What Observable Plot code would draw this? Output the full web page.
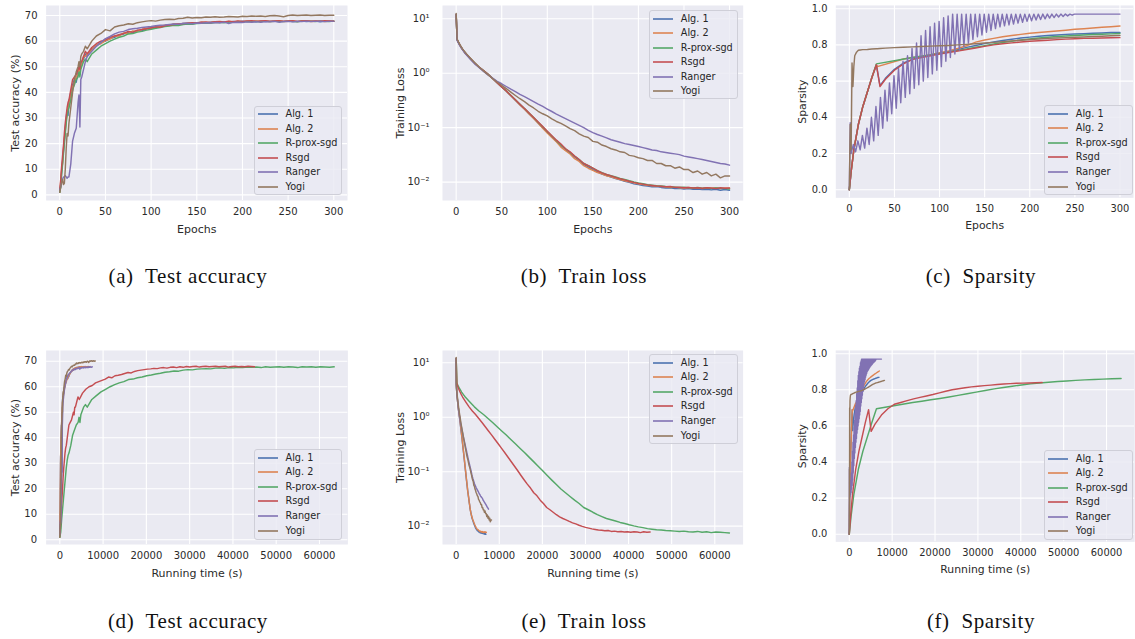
<!DOCTYPE html>
<html>
<head>
<meta charset="utf-8">
<script src="https://cdn.jsdelivr.net/npm/d3@7"></script>
<script src="https://cdn.jsdelivr.net/npm/@observablehq/plot@0.6"></script>
<style>
html, body { margin: 0; padding: 0; background: #fff; overflow: hidden; }
#fig { position: relative; width: 1135px; height: 639px; overflow: hidden; font-family: "DejaVu Sans", sans-serif; }
.panel { position: absolute; }
.panel svg { overflow: visible; }
.legend { position: absolute; box-sizing: border-box; background: rgba(234,234,242,0.8); border: 1px solid #cfcfd8; border-radius: 3px; font-family: "DejaVu Sans", sans-serif; font-size: 9.7px; color: #262626; }
.lrow { position: absolute; left: 0; height: 14px; line-height: 14px; white-space: nowrap; }
.sw { position: absolute; left: 2px; top: 0; width: 22px; height: 14px; }
.lt { position: absolute; left: 30.5px; top: 0; }
.cap { position: absolute; width: 400px; text-align: center; font-family: "Liberation Serif", serif; font-size: 21px; letter-spacing: 0.6px; line-height: 24px; color: #111; white-space: pre; }
</style>
</head>
<body>
<div id="fig"></div>
<script>
// ---------- series names & colours ----------
const names = ["Alg. 1", "Alg. 2", "R-prox-sgd", "Rsgd", "Ranger", "Yogi"];
const colors = ["#4C72B0", "#DD8452", "#55A868", "#C44E52", "#8172B3", "#937860"];
// running time (s) at the end of epoch 300 (d)-(f)
const runTimeEnd = [6900, 7000, 63400, 45000, 7500, 8200];

// ---------- test accuracy (%) per epoch ----------
const accEpochs = [0,1,2,3,4,5,6,7,8,9,10,12,14,16,18,20,21,22,23,24,26,28,30,35,40,45,50,55,60,65,70,75,80,85,90,95,100,105,110,115,120,125,130,135,140,145,150,155,160,165,170,175,180,185,190,195,200,205,210,215,220,225,230,235,240,245,250,255,260,265,270,275,280,285,290,295,300];
const accAlg1 = [1.5,4,9,13,17,21,26,30,33,31,36,40,43,45,44,48,50,47,51,52,53,55,54,57,58,59.5,60,61,61.5,62.5,62.8,63.5,63.2,64.2,64,64.8,65.3,65.2,65.8,66,66.3,66.6,66.4,66.9,67,66.8,67.2,67.3,67.1,67.4,67.5,67.3,67.6,67.4,67.7,67.5,67.8,67.6,67.7,67.5,67.8,67.6,67.7,67.8,67.5,67.7,67.8,67.6,67.7,67.8,67.6,67.7,67.8,67.5,67.7,67.8,67.7];
const accAlg2 = [1,5,10,12,18,22,25,29,32,34,35,39,42,44,46,47,49,48,50,51,54,54,55,56.5,58.5,59,60.2,60.8,62,62,63.2,63,64,63.8,64.6,65,65,65.6,65.7,66.2,66.1,66.7,66.8,66.6,67.1,67.2,67,67.4,67.3,67.2,67.6,67.5,67.4,67.7,67.5,67.8,67.6,67.8,67.6,67.9,67.7,67.8,67.6,67.7,67.9,67.6,67.7,67.9,67.6,67.8,67.9,67.6,67.7,67.9,67.6,67.8,67.9];
const accRprox = [1,3,8,12,16,20,24,28,31,33,34,37,41,43,45,46,48,46,49,50,52,53,52,55,56.5,58,59,60,60.8,61.5,62,62.8,63,63.5,63.8,64.3,64.6,65,65.3,65.7,65.9,66.2,66.1,66.5,66.7,66.6,66.9,67,67.1,67,67.3,67.4,67.2,67.5,67.4,67.6,67.5,67.7,67.6,67.7,67.5,67.8,67.6,67.7,67.8,67.6,67.8,67.7,67.5,67.8,67.7,67.8,67.6,67.8,67.7,67.6,67.8];
const accRsgd = [2,6,11,15,19,24,28,31,34,36,37,41,45,46,47,49,50,49,52,52,54,56,55,57.5,59,60,60.5,61.5,62,62.5,63,63.8,63.5,64.3,64.5,64.8,65.2,65.6,65.4,66,66.3,66.5,66.7,66.9,67,67.2,67.1,67.4,67.5,67.3,67.6,67.7,67.5,67.8,67.6,67.9,67.7,67.9,68,67.7,67.9,68,67.8,67.9,68,67.8,67.9,68,67.7,67.9,68,67.8,67.9,67.8,68,67.9,67.8];
const accRanger = [2,3,5,6,7,7,7.5,7,6.5,7,7,12,21,24,26,36,39,26.5,45,46,49,52,54,56,58,59.5,61,61.8,62.8,63.5,63.8,64.5,64.8,65,65.3,65.5,65.7,66,66.2,66.3,66.5,66.7,66.6,66.9,67,66.8,67.1,67,67.2,67.1,67.3,67.2,67.4,66.9,67.3,67.4,67.3,67.5,67.4,67.6,67.4,67.6,67.5,67.7,67.4,67.6,67.7,67.5,67.7,67.6,67.8,67.6,67.7,67.8,67.6,67.7,67.8];
const accYogi = [1,3,5,6,4,4.5,10,18,24,23,28,34,40,45,48,50,52,50,54,55,56,58,57,60,62,63,64.5,64,65.5,66,66.3,66.8,66.6,67.2,67.5,67.8,68,67.8,68.2,68.4,68.5,68.4,68.8,68.9,69.3,69,69.2,69.1,69.4,69.3,69.5,69.3,69.4,69.6,69.5,69.4,69.7,69.6,69.8,69.7,69.8,69.6,69.9,70,69.8,69.5,70,70.2,70,70.1,70.2,70,70.1,70.2,70,70.1,70.1];

// ---------- training loss per epoch ----------
const lossEpochs = [0,1,2,4,6,8,10,15,20,25,30,35,40,45,50,55,60,65,70,75,80,85,90,95,100,105,110,115,120,125,130,135,140,145,150,155,160,165,170,175,180,185,190,195,200,205,210,215,220,225,230,235,240,245,250,255,260,265,270,275,280,285,290,295,300];
const lossAlg1 = [12,4.2,3.8,3.3,2.9,2.6,2.35,1.9,1.55,1.3,1.12,0.95,0.8,0.67,0.56,0.47,0.39,0.32,0.265,0.22,0.18,0.15,0.122,0.1,0.082,0.068,0.056,0.047,0.04,0.034,0.029,0.025,0.021,0.019,0.017,0.0155,0.014,0.0132,0.0124,0.0116,0.011,0.0104,0.0099,0.0093,0.009,0.0087,0.0085,0.0082,0.0083,0.008,0.0078,0.0079,0.0076,0.0077,0.0075,0.0076,0.0074,0.0075,0.0073,0.0074,0.0072,0.0074,0.0071,0.0073,0.0071];
const lossAlg2 = [12,4.2,3.8,3.3,2.9,2.6,2.35,1.9,1.55,1.3,1.12,0.95,0.8,0.67,0.56,0.47,0.39,0.32,0.262,0.218,0.178,0.147,0.12,0.098,0.08,0.066,0.055,0.044,0.038,0.033,0.027,0.024,0.02,0.018,0.0165,0.015,0.0142,0.0131,0.0125,0.0118,0.0112,0.0106,0.0101,0.0097,0.0093,0.009,0.0088,0.0086,0.0085,0.0083,0.0082,0.008,0.0081,0.0079,0.0078,0.008,0.0077,0.0079,0.0076,0.0078,0.0077,0.0079,0.0076,0.0078,0.0077];
const lossRprox = [12,4.2,3.8,3.3,2.9,2.6,2.35,1.9,1.55,1.3,1.12,0.95,0.8,0.67,0.56,0.47,0.39,0.325,0.27,0.225,0.185,0.153,0.126,0.104,0.085,0.07,0.058,0.048,0.041,0.035,0.03,0.026,0.022,0.02,0.018,0.0163,0.015,0.0138,0.0131,0.0124,0.0117,0.0112,0.0106,0.0101,0.0097,0.0094,0.009,0.0088,0.0086,0.0085,0.0083,0.0082,0.0081,0.008,0.0081,0.0079,0.0078,0.008,0.0077,0.0079,0.0076,0.0078,0.0077,0.0076,0.0075];
const lossRsgd = [12,4.2,3.8,3.3,2.9,2.6,2.35,1.9,1.55,1.3,1.12,0.95,0.8,0.67,0.56,0.47,0.39,0.325,0.27,0.225,0.186,0.154,0.127,0.105,0.086,0.071,0.059,0.05,0.041,0.036,0.03,0.026,0.022,0.02,0.018,0.0162,0.0148,0.0138,0.013,0.0122,0.0115,0.011,0.0104,0.0099,0.0095,0.0092,0.0089,0.0087,0.0085,0.0084,0.0082,0.0083,0.008,0.0081,0.0079,0.008,0.0078,0.0079,0.0077,0.0079,0.0078,0.0076,0.0079,0.0077,0.0078];
const lossRanger = [12,4.0,3.7,3.2,2.85,2.55,2.3,1.85,1.5,1.27,1.08,0.93,0.81,0.71,0.64,0.57,0.51,0.46,0.41,0.37,0.335,0.3,0.27,0.245,0.22,0.198,0.178,0.161,0.146,0.133,0.121,0.11,0.1,0.089,0.081,0.075,0.07,0.065,0.06,0.057,0.054,0.051,0.049,0.047,0.045,0.043,0.041,0.039,0.038,0.036,0.035,0.034,0.033,0.032,0.03,0.029,0.028,0.027,0.026,0.025,0.024,0.023,0.022,0.0215,0.0205];
const lossYogi = [12.5,4.3,3.9,3.35,2.95,2.65,2.4,1.92,1.57,1.3,1.1,0.94,0.8,0.69,0.6,0.52,0.45,0.39,0.34,0.3,0.26,0.23,0.2,0.18,0.165,0.145,0.13,0.12,0.108,0.096,0.088,0.077,0.07,0.066,0.056,0.054,0.048,0.045,0.041,0.039,0.036,0.035,0.031,0.03,0.028,0.027,0.025,0.025,0.022,0.022,0.02,0.02,0.018,0.019,0.017,0.017,0.015,0.016,0.014,0.015,0.013,0.014,0.012,0.013,0.013];

// ---------- sparsity per epoch (null = not logged) ----------
const spEpochs = [0,1,2,3,4,5,6,8,10,12,15,20,25,30,31,34,40,50,60,70,80,90,100,110,120,130,140,150,160,170,180,190,200,210,220,230,240,250,260,270,280,290,300];
const spAlg1 = [0,null,0.1,null,null,0.22,null,null,0.36,null,0.46,0.54,0.62,0.69,null,0.575,0.615,0.665,0.70,0.72,0.735,0.745,0.753,0.763,0.774,0.786,0.797,0.807,0.816,0.824,0.831,0.838,0.843,0.848,0.852,0.855,0.858,0.86,0.862,0.864,0.866,0.868,0.869];
const spAlg2 = [0,null,0.1,null,null,0.22,null,null,0.36,null,0.46,0.54,0.62,0.69,0.68,null,null,null,0.722,0.73,0.737,0.746,0.757,0.767,0.78,0.795,0.815,0.827,0.836,0.845,0.852,0.858,0.864,0.868,0.873,0.877,0.881,0.886,0.889,0.893,0.897,0.9,0.904];
const spRprox = [0,null,0.1,null,null,0.22,null,null,0.36,null,0.46,0.54,0.62,0.695,null,null,null,null,null,0.73,0.737,0.745,0.752,0.76,0.769,0.778,0.787,0.796,0.805,0.813,0.82,0.827,0.833,0.838,0.842,0.846,0.849,0.852,0.855,0.857,0.859,0.861,0.863];
const spRsgd = [0,null,0.1,null,null,0.22,null,null,0.36,null,0.46,0.54,0.62,0.69,null,0.57,0.61,0.66,0.695,0.72,0.73,0.74,0.75,0.758,0.766,0.774,0.783,0.792,0.8,0.806,0.811,0.816,0.82,0.823,0.826,0.829,0.832,0.834,0.836,0.837,0.838,0.839,0.84];
const spYogi = [0,0.36,0.22,0.70,0.57,0.68,0.74,0.76,0.77,0.772,0.774,0.775,0.777,0.779,0.779,0.78,0.782,0.785,0.787,0.789,0.791,0.793,0.795,0.797,0.8,0.803,0.806,0.81,0.814,0.818,0.822,0.826,0.83,0.833,0.836,0.838,0.84,0.842,0.844,0.846,0.848,0.85,0.852];
// Ranger sparsity oscillates: logged every 2.5 epochs (alternating peak / trough)
const rangerSpEpochs = [0, 1, 2, ...d3.range(4.5, 250, 2.5), 300];
const spRanger = [0,0.37,0.20,
 0.25,0.21,0.27,0.22,0.30,0.23,0.34,0.25,0.40,0.27,0.46,0.30,0.51,0.34,0.55,0.38,0.59,0.42,0.63,0.45,0.67,0.48,0.71,0.51,0.74,0.53,0.78,0.56,0.81,0.58,0.85,0.60,0.88,0.62,0.90,0.64,0.92,0.66,0.93,0.68,0.95,0.71,0.96,0.73,0.97,0.75,0.97,0.77,0.97,0.79,0.97,0.81,0.97,0.83,0.97,0.845,0.97,0.855,0.97,0.87,0.97,0.88,0.97,0.89,0.97,0.9,0.97,0.905,0.97,0.91,0.97,0.915,0.97,0.92,0.97,0.925,0.97,0.93,0.97,0.933,0.97,0.937,0.97,0.94,0.97,0.944,0.97,0.948,0.97,0.951,0.97,0.954,0.97,0.957,0.97,0.96,0.97,0.964,0.97,
 0.97];

// ---------- tick values & labels ----------
const epochTicks = [0,50,100,150,200,250,300];
const timeTicks = [0,10000,20000,30000,40000,50000,60000];
const accTicks = [0,10,20,30,40,50,60,70];
const spTicks = [0,0.2,0.4,0.6,0.8,1.0];
const lossTicks = [10,1,0.1,0.01];
const lossTickLabels = ["10¹","10⁰","10⁻¹","10⁻²"];
const captions = ["(a)  Test accuracy","(b)  Train loss","(c)  Sparsity","(d)  Test accuracy","(e)  Train loss","(f)  Sparsity"];

// ---------- build rows ----------
function buildRows(epochsList, seriesList, useTime) {
  const out = [];
  seriesList.forEach((vals, i) => {
    const eps = epochsList[i];
    vals.forEach((v, j) => {
      if (v == null) return;
      const e = eps[j];
      out.push({name: names[i], x: useTime ? e / 300 * runTimeEnd[i] : e, y: v});
    });
  });
  return out;
}
const accList = [accAlg1, accAlg2, accRprox, accRsgd, accRanger, accYogi];
const lossList = [lossAlg1, lossAlg2, lossRprox, lossRsgd, lossRanger, lossYogi];
const spList = [spAlg1, spAlg2, spRprox, spRsgd, spRanger, spYogi];
const accEp = names.map(() => accEpochs);
const lossEp = names.map(() => lossEpochs);
const spEp = [spEpochs, spEpochs, spEpochs, spEpochs, rangerSpEpochs, spEpochs];

const fig = document.getElementById("fig");

function panel(cfg) {
  const data = buildRows(cfg.eps, cfg.series, cfg.time);
  const xTicks = cfg.time ? timeTicks : epochTicks;
  const plot = Plot.plot({
    width: cfg.W, height: cfg.H,
    marginLeft: cfg.mL, marginRight: cfg.mR, marginTop: cfg.mT, marginBottom: cfg.mB,
    style: {background: "transparent", fontFamily: "DejaVu Sans", fontSize: "10px", color: "#2a2a2a", overflow: "visible"},
    x: {domain: cfg.time ? [-3170, 66570] : [-15, 315]},
    y: {domain: cfg.yDomain, type: cfg.log ? "log" : "linear"},
    color: {domain: names, range: colors},
    marks: [
      Plot.frame({fill: "#EAEAF2", stroke: "none"}),
      Plot.gridX(xTicks, {stroke: "#ffffff", strokeOpacity: 1, strokeWidth: 1.1}),
      Plot.gridY(cfg.yTicks, {stroke: "#ffffff", strokeOpacity: 1, strokeWidth: 1.1}),
      Plot.axisX(xTicks, {tickSize: 0, tickPadding: 7, tickFormat: d => String(d), fontSize: 10,
        label: cfg.time ? "Running time (s)" : "Epochs", labelAnchor: "center", labelArrow: "none", labelOffset: 32}),
      Plot.axisY(cfg.yTicks, {tickSize: 0, tickPadding: cfg.yPad, tickFormat: cfg.yFmt, fontSize: 10,
        label: cfg.yLabel, labelAnchor: "center", labelArrow: "none", labelOffset: cfg.yLabOff}),
      Plot.line(data, {x: "x", y: "y", z: "name", stroke: "name", strokeWidth: 1.45, strokeLinejoin: "round"})
    ]
  });
  const wrap = document.createElement("div");
  wrap.className = "panel";
  wrap.style.left = cfg.left + "px";
  wrap.style.top = cfg.top + "px";
  wrap.appendChild(plot);
  fig.appendChild(wrap);
  plot.querySelectorAll("g[aria-label='x-axis label'] text, g[aria-label='y-axis label'] text").forEach(t => t.setAttribute("font-size", "11"));

  // legend box
  const [lx, ly, lw, lh] = cfg.legend;
  const lg = document.createElement("div");
  lg.className = "legend";
  Object.assign(lg.style, {left: lx + "px", top: ly + "px", width: lw + "px", height: lh + "px"});
  names.forEach((n, i) => {
    const row = document.createElement("div");
    row.className = "lrow";
    row.style.top = (0.5 + i * 14.55) + "px";
    row.innerHTML = `<svg class="sw" width="22" height="14"><line x1="1" x2="21" y1="7" y2="7" stroke="${colors[i]}" stroke-width="1.6"/></svg><span class="lt">${n}</span>`;
    lg.appendChild(row);
  });
  fig.appendChild(lg);

  const cap = document.createElement("div");
  cap.className = "cap";
  cap.style.left = (cfg.capX - 200) + "px";
  cap.style.top = (cfg.capY - 12) + "px";
  cap.textContent = cfg.caption;
  fig.appendChild(cap);
}

const fmt1 = d => d.toFixed(1);
const fmtLog = d => lossTickLabels[lossTicks.indexOf(d)];

panel({left: 0, top: 0, W: 380, H: 245, mL: 45.6, mR: 33, mT: 5, mB: 45,
  eps: accEp, series: accList, time: false, yDomain: [-2.2, 73.9], yTicks: accTicks, yFmt: d => String(d),
  yPad: 8.5, yLabel: "Test accuracy (%)", yLabOff: 35, legend: [254, 105.7, 88.3, 89.3], capX: 188, capY: 276, caption: captions[0]});
panel({left: 380, top: 0, W: 380, H: 245, mL: 62, mR: 17.3, mT: 5, mB: 45,
  eps: lossEp, series: lossList, time: false, log: true, yDomain: [0.0046, 17.5], yTicks: lossTicks, yFmt: fmtLog,
  yPad: 13, yLabel: "Training Loss", yLabOff: 46, legend: [649.3, 10, 88.4, 89.3], capX: 584, capY: 276, caption: captions[1]});
panel({left: 760, top: 0, W: 380, H: 245, mL: 76.3, mR: 2, mT: 5, mB: 45,
  eps: spEp, series: spList, time: false, yDomain: [-0.045, 1.018], yTicks: spTicks, yFmt: fmt1,
  yPad: 8.5, yLabel: "Sparsity", yLabOff: 38, legend: [1044.3, 105.3, 88.7, 89.7], capX: 981, capY: 276, caption: captions[2]});
panel({left: 0, top: 345, W: 380, H: 245, mL: 45.6, mR: 32.6, mT: 5, mB: 46,
  eps: accEp, series: accList, time: true, yDomain: [-1.84, 74.2], yTicks: accTicks, yFmt: d => String(d),
  yPad: 9, yLabel: "Test accuracy (%)", yLabOff: 35, legend: [254, 449.3, 88.3, 90.7], capX: 188, capY: 621, caption: captions[3]});
panel({left: 380, top: 345, W: 380, H: 245, mL: 62, mR: 17.4, mT: 5, mB: 46,
  eps: lossEp, series: lossList, time: true, log: true, yDomain: [0.0046, 16.8], yTicks: lossTicks, yFmt: fmtLog,
  yPad: 13, yLabel: "Training Loss", yLabOff: 46, legend: [649.3, 354.3, 88.4, 89.7], capX: 584, capY: 621, caption: captions[4]});
panel({left: 760, top: 345, W: 380, H: 245, mL: 76.2, mR: 0.8, mT: 5, mB: 46,
  eps: spEp, series: spList, time: true, yDomain: [-0.042, 1.018], yTicks: spTicks, yFmt: fmt1,
  yPad: 8.5, yLabel: "Sparsity", yLabOff: 38, legend: [1044.3, 450, 89, 90], capX: 981, capY: 621, caption: captions[5]});
</script>
</body>
</html>
